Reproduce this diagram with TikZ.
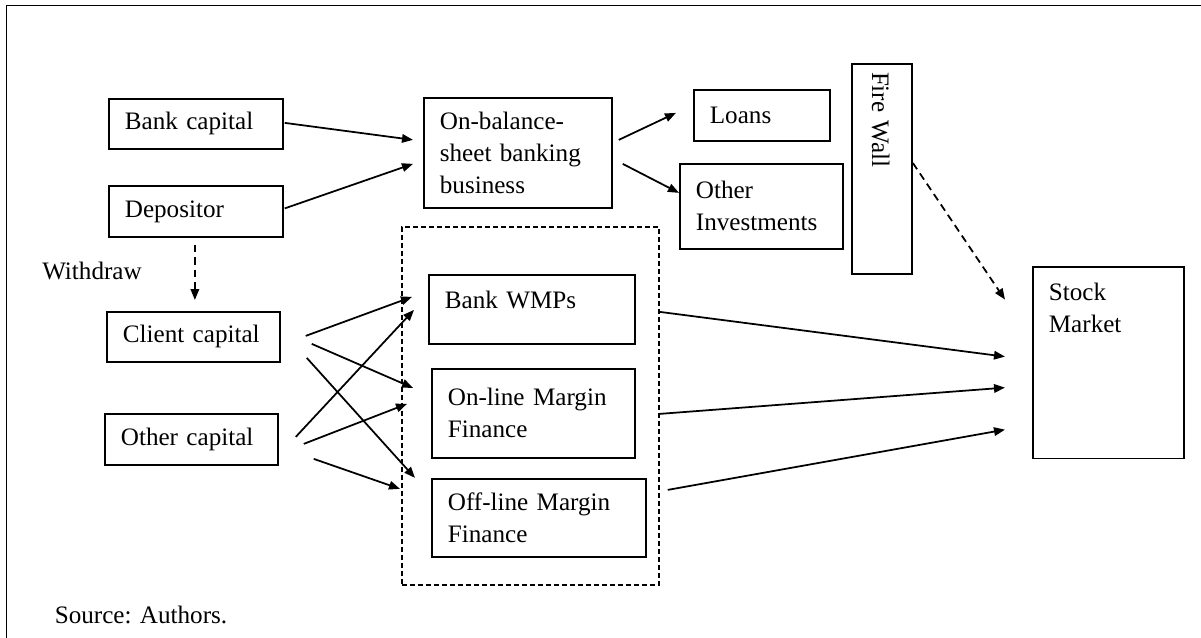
\documentclass[tikz,border=0pt]{standalone}
\usepackage{fontspec}
\setmainfont{Liberation Serif}
\usetikzlibrary{arrows.meta, calc}
\tikzstyle{box} = [draw, line width=1pt, anchor=north west, inner xsep=3.2mm, inner ysep=0.5mm]
\tikzstyle{lbox} = [box, align=left]
\tikzstyle{arrow} = [line width=1pt, -{Triangle[length=2.2mm,width=1.7mm]}]
\tikzstyle{dasharrow} = [arrow, dash pattern=on 1.5mm off 1mm]

\begin{document}
\begin{tikzpicture}[x=0.2mm, y=-0.2mm, font=\fontsize{14.3pt}{18.2pt}\selectfont]
	\useasboundingbox (0,0) rectangle (1201,637);
	\draw[line width=1pt] (6.5,660) |- (1220,5.5);

	\node[box, dash pattern=on 1mm off 0.6mm, minimum width=51.4mm, minimum height=71.6mm] (retail) at (401,226) {};

	\node[lbox, text width=28.4mm, minimum height=10mm] (bankcap) at (108,98) {Bank capital};
	\node[lbox, text width=28.4mm, minimum height=10.2mm] (depositor) at (108,185) {Depositor};
	\node[lbox, text width=28.2mm, minimum height=10mm] (clientcap) at (106,311) {Client capital};
	\node[lbox, text width=28.2mm, minimum height=10.2mm] (othercap) at (104,413) {Other capital};
	\node[inner sep=0pt] (withdraw) at (92,271) {Withdraw};

	\node[lbox, text width=31.2mm, minimum height=22mm] (onbalance) at (423,97) {On-balance-\\sheet banking\\business};
	\node[lbox, text width=20.8mm, minimum height=10.2mm] (loans) at (693,89) {Loans};
	\node[lbox, text width=26.2mm, minimum height=17mm] (otherinv) at (679,163) {Other\\Investments};
	\node[lbox, anchor=center, rotate=-90, inner xsep=1.6mm, inner ysep=0pt, text width=38.8mm, text height=8mm, text depth=4mm] (firewall) at (882,169) {Fire Wall};

	\node[lbox, inner ysep=0pt, text width=34.8mm, text height=6.7mm, text depth=7.1mm] (wmps) at (428,274) {Bank WMPs};
	\node[lbox, text width=34.2mm, minimum height=17.8mm] (online) at (431,368) {On-line Margin\\Finance};
	\node[lbox, text width=36.4mm, minimum height=15.6mm] (offline) at (431,478) {Off-line Margin\\Finance};

	\node[box, inner ysep=3.2mm] (stock) at (1032,266) {\parbox[b][31.9mm][t]{23.8mm}{Stock\\Market}};

	\node[inner sep=0pt] (source) at (141,615) {Source: Authors.};

	\draw [arrow] ($(bankcap.east)+(1,-1)$) -- ($(onbalance.west)+(-10,-13)$);
	\draw [arrow] ($(depositor.east)+(1,-3)$) -- ($(onbalance.west)+(-10,11)$);
	\draw [arrow] ($(onbalance.east)+(6,-13)$) -- ($(loans.west)+(-17,-2.5)$);
	\draw [arrow] ($(onbalance.east)+(10,11)$) -- ($(otherinv.west)+(0,-13.5)$);
	\draw [dasharrow] ($(firewall.north)+(0,-6)$) -- ($(stock.west)+(-27,-63)$);
	\draw [dasharrow] ($(depositor.south)+(-1,7)$) -- ($(clientcap.north)+(1.5,-11)$);

	\draw [arrow] ($(clientcap.east)+(25,-1)$) -- ($(wmps.west)+(-16,-12.5)$);
	\draw [arrow] ($(clientcap.east)+(31,7)$) -- ($(online.west)+(-18,-25.5)$);
	\draw [arrow] ($(clientcap.east)+(26,21)$) -- ($(offline.west)+(-16,-40)$);
	\draw [arrow] ($(othercap.east)+(17,-2.5)$) -- ($(wmps.west)+(-14,0.5)$);
	\draw [arrow] ($(othercap.east)+(25,4.5)$) -- ($(online.west)+(-24,-9.5)$);
	\draw [arrow] ($(othercap.east)+(35,19.5)$) -- ($(offline.west)+(-31,-29)$);

	\draw [arrow] ($(retail.east|-wmps.east)+(0,2.5)$) -- ($(stock.west)+(-27,-6)$);
	\draw [arrow] ($(retail.east|-online.east)+(0,0.5)$) -- ($(stock.west)+(-27,25)$);
	\draw [arrow] ($(offline.east)+(21,-28)$) -- ($(stock.west)+(-27,67)$);
\end{tikzpicture}
\end{document}
